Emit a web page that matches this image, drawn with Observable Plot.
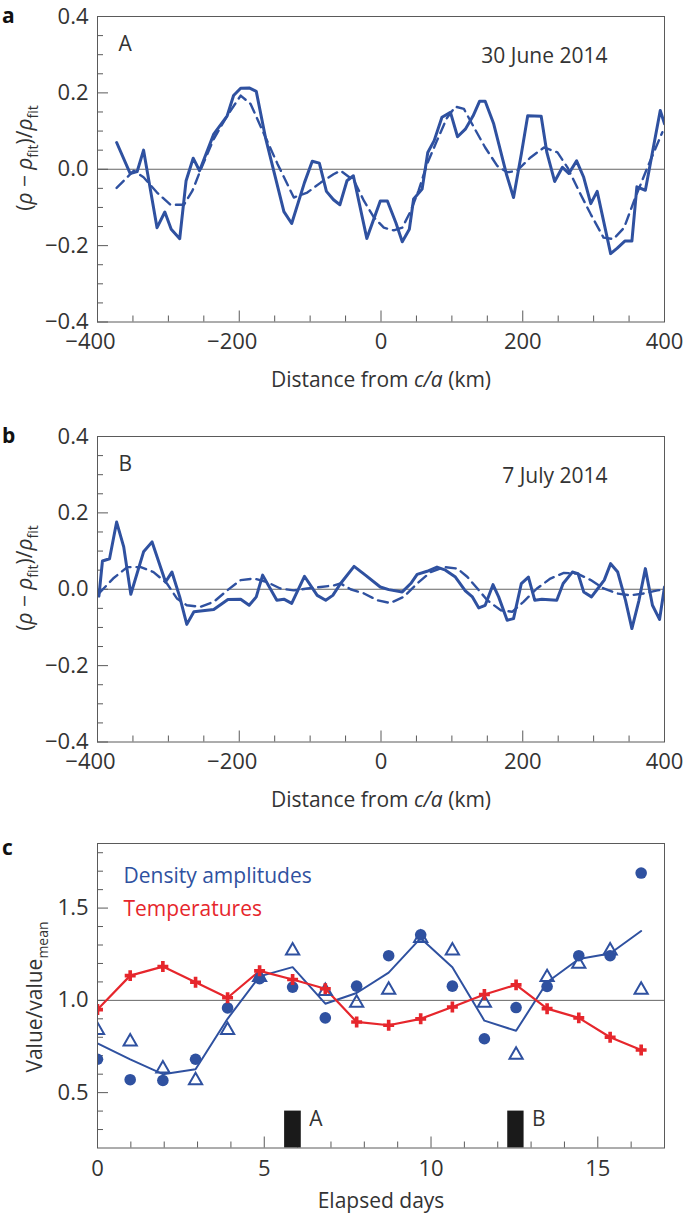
<!DOCTYPE html>
<html><head><meta charset="utf-8">
<script src="https://cdn.jsdelivr.net/npm/d3@7"></script>
<script src="https://cdn.jsdelivr.net/npm/@observablehq/plot@0.6"></script>
<style>
body{margin:0;background:#fff;}
#wrap{position:relative;width:685px;height:1214px;overflow:hidden;}
#wrap svg{position:absolute;left:0;overflow:visible;}
</style></head><body><div id="wrap"></div>
<script>
// ---------- Panel a (30 June 2014) ----------
const aSolidDist = [-373,-354,-344,-335,-316,-305,-296,-284,-275,-265,-256,-236,-217,-208,-198,-186,-176,-163,-137,-126,-108,-97,-87,-77,-67,-58,-48,-39,-20,-1,9,21,30,40,46,58,66,75,86,98,108,119,130,139,147,159,177,187,198,207,226,234,245,256,265,276,286,296,305,324,333,344,354,361,373,394,400];
const aSolidVal = [0.070,-0.011,-0.006,0.050,-0.153,-0.112,-0.157,-0.182,-0.030,0.029,-0.004,0.092,0.140,0.193,0.212,0.213,0.204,0.083,-0.111,-0.142,-0.035,0.021,0.016,-0.058,-0.080,-0.093,-0.030,-0.017,-0.181,-0.083,-0.083,-0.140,-0.190,-0.157,-0.078,-0.052,0.044,0.075,0.136,0.149,0.085,0.105,0.140,0.178,0.178,0.119,-0.013,-0.074,0.040,0.140,0.139,0.044,-0.032,0.005,-0.011,0.022,-0.021,-0.090,-0.058,-0.221,-0.207,-0.188,-0.188,-0.046,-0.055,0.154,0.119];
const aDashDist = [-373,-349,-335,-316,-297,-278,-266,-255,-236,-217,-198,-184,-165,-146,-123,-104,-85,-67,-57,-38,-24,-10,4,18,30,42,53,65,79,93,105,117,131,147,164,178,192,211,230,249,263,279,296,314,328,343,357,376,397];
const aDashVal = [-0.049,-0.004,-0.021,-0.061,-0.093,-0.093,-0.056,-0.004,0.079,0.140,0.193,0.171,0.092,0.014,-0.074,-0.061,-0.035,-0.013,-0.004,-0.030,-0.083,-0.126,-0.153,-0.160,-0.153,-0.109,-0.056,0.014,0.075,0.134,0.164,0.158,0.110,0.057,0.009,-0.008,-0.004,0.031,0.057,0.044,0.005,-0.056,-0.118,-0.179,-0.183,-0.153,-0.083,0.005,0.097];

// ---------- Panel b (7 July 2014) ----------
const bSolidDist = [-398,-393,-383,-373,-363,-353,-335,-323,-304,-295,-284,-274,-264,-236,-216,-198,-186,-176,-167,-147,-137,-126,-108,-90,-78,-68,-57,-38,-22,-1,11,30,42,51,65,79,91,105,119,129,138,147,158,166,178,187,198,208,217,227,248,257,270,278,286,297,306,315,324,334,345,354,364,373,383,393,400];
const bSolidVal = [-0.018,0.074,0.080,0.176,0.111,-0.013,0.098,0.124,0.019,0.045,-0.020,-0.092,-0.059,-0.053,-0.027,-0.026,-0.042,-0.020,0.037,-0.029,-0.026,-0.037,0.034,-0.016,-0.029,-0.016,0.015,0.060,0.037,0.006,-0.001,-0.007,0.015,0.039,0.047,0.058,0.050,0.032,-0.004,-0.020,-0.049,-0.042,0.012,-0.020,-0.081,-0.077,0.015,0.032,-0.029,-0.026,-0.029,0.015,0.045,0.041,-0.007,-0.020,0.002,0.024,0.067,0.045,-0.029,-0.103,-0.029,0.054,-0.042,-0.079,0.006];
const bDashDist = [-398,-378,-358,-339,-321,-302,-288,-274,-255,-236,-217,-198,-179,-161,-142,-123,-104,-85,-67,-57,-43,-24,-5,13,32,51,70,89,108,122,136,150,169,185,201,220,239,258,277,296,314,333,352,371,390,400];
const bDashVal = [-0.011,0.028,0.058,0.058,0.045,0.015,-0.024,-0.042,-0.046,-0.033,-0.003,0.024,0.028,0.019,0.002,-0.003,0.002,0.006,0.010,0.015,0.000,-0.011,-0.029,-0.036,-0.020,0.015,0.045,0.058,0.054,0.032,0.002,-0.029,-0.055,-0.059,-0.033,0.002,0.028,0.043,0.041,0.024,0.002,-0.011,-0.016,-0.011,-0.003,0.000];

// ---------- Panel c ----------
const days = [0,0.98,1.96,2.94,3.9,4.86,5.85,6.83,7.77,8.73,9.69,10.64,11.6,12.55,13.48,14.43,15.37,16.3];
const temperatures = [0.95,1.134,1.183,1.098,1.014,1.16,1.113,1.063,0.883,0.865,0.90,0.964,1.032,1.084,0.955,0.905,0.80,0.731];
const densityCircles = [0.681,0.57,0.566,0.681,0.959,1.117,1.072,0.905,1.077,1.242,1.355,1.077,0.792,0.961,1.075,1.242,1.242,1.69];
const densityTriangles = [0.839,0.776,0.63,0.566,0.839,1.125,1.269,1.05,0.986,1.057,1.337,1.269,0.986,0.704,1.125,1.197,1.269,1.057];
const densityLine = [0.767,0.68,0.60,0.627,0.90,1.13,1.18,0.982,1.04,1.15,1.337,1.18,0.89,0.835,1.098,1.224,1.254,1.376];
const markerLabels = ["A","B"];
const markerStart = [5.61,12.3];
const markerEnd = [6.11,12.79];
const markerTop = [0.4,0.4];
const legendLabels = ["Density amplitudes","Temperatures"];

// ticks
const distMajor = [-400,-200,0,200,400];
const distMinor = [-350,-300,-250,-150,-100,-50,50,100,150,250,300,350];
const ratioMajor = [-0.4,-0.2,0,0.2,0.4];
const ratioMinor = [-0.35,-0.3,-0.25,-0.15,-0.1,-0.05,0.05,0.1,0.15,0.25,0.3,0.35];
const dayMajor = [0,5,10,15];
const dayMinor = [1,2,3,4,6,7,8,9,11,12,13,14,16];
const valueMajor = [0.5,1.0,1.5];
const valueMinor = [0.3,0.4,0.6,0.7,0.8,0.9,1.1,1.2,1.3,1.4,1.6,1.7,1.8];

const BLUE = "#2f51a0", RED = "#e6262c", AXIS = "#5a5a5a", TXT = "#333", FONT = '"Open Sans", sans-serif';
const wrap = document.getElementById("wrap");
const fmtInt = d3.format("d");

function addRich(svg, x, y, parts, {rotate = false, anchor = "middle", size = 21, weight = 400, fill = TXT} = {}) {
  const t = d3.select(svg).append("text")
    .attr("transform", `translate(${x},${y})` + (rotate ? " rotate(-90)" : ""))
    .attr("text-anchor", anchor).attr("font-size", size).attr("font-weight", weight)
    .attr("font-family", FONT).attr("fill", fill);
  let shift = 0;
  for (const p of parts) {
    const s = t.append("tspan").text(p.t);
    if (p.i) s.attr("font-style", "italic");
    const target = p.sub ? 6 : 0;
    if (target !== shift) { s.attr("dy", target - shift); shift = target; }
    if (p.sub) s.attr("font-size", 14);
  }
  return t;
}

function distPanel(top, sD, sV, dD, dV, tag, date, letter) {
  const W = 685, H = 410, mt = 16, mb = 88.5, ml = 97, mr = 21;
  const fw = W - ml - mr, fh = H - mt - mb;
  const solid = sD.map((d, i) => ({d, v: sV[i]}));
  const dash = dD.map((d, i) => ({d, v: dV[i]}));
  const svg = Plot.plot({
    width: W, height: H, marginTop: mt, marginBottom: mb, marginLeft: ml, marginRight: mr,
    style: {fontFamily: FONT, fontSize: "22px", color: TXT, background: "transparent"},
    x: {domain: [-400, 400], axis: null},
    y: {domain: [-0.4, 0.4], ticks: ratioMajor, tickSize: 0, tickPadding: 9, tickFormat: d3.format(".1f"), label: null},
    marks: [
      Plot.ruleY([0], {stroke: "#666", strokeWidth: 1}),
      Plot.tickX(distMinor, {x: d => d, stroke: AXIS, insetTop: fh - 6}),
      Plot.tickX(distMajor, {x: d => d, stroke: AXIS, insetTop: fh - 11}),
      Plot.tickY(ratioMinor, {y: d => d, stroke: AXIS, insetRight: fw - 6}),
      Plot.tickY(ratioMajor, {y: d => d, stroke: AXIS, insetRight: fw - 11}),
      Plot.line(dash, {x: "d", y: "v", stroke: BLUE, strokeWidth: 2.4, strokeDasharray: "10,6", clip: true}),
      Plot.line(solid, {x: "d", y: "v", stroke: BLUE, strokeWidth: 3, clip: true}),
      Plot.frame({stroke: AXIS}),
      // x tick labels: negative labels hang their minus sign to the left, as in the reference
      Plot.text(distMajor.filter(d => d < 0), {x: d => d, text: d => fmtInt(d), frameAnchor: "bottom", dy: 20, dx: -7, lineAnchor: "middle", fontSize: 22, fill: TXT}),
      Plot.text(distMajor.filter(d => d >= 0), {x: d => d, text: d => fmtInt(d), frameAnchor: "bottom", dy: 20, lineAnchor: "middle", fontSize: 22, fill: TXT}),
      Plot.text([tag], {text: d => d, frameAnchor: "top-left", dx: 21, dy: 34, lineAnchor: "bottom", textAnchor: "start", fontSize: 21, fill: TXT}),
      Plot.text([date], {text: d => d, frameAnchor: "top-right", dx: -57, dy: 46, lineAnchor: "bottom", textAnchor: "end", fontSize: 21, fill: TXT})
    ]
  });
  svg.style.top = top + "px";
  wrap.appendChild(svg);
  addRich(svg, 2, 23, [{t: letter}], {anchor: "start", weight: 700, size: 21, fill: "#111"});
  addRich(svg, 381, 387, [{t: "Distance from "}, {t: "c/a", i: true}, {t: " (km)"}]);
  addRich(svg, 32, 158, [{t: "("}, {t: "ρ", i: true}, {t: " − "}, {t: "ρ", i: true}, {t: "fit", sub: true}, {t: ")/"}, {t: "ρ", i: true}, {t: "fit", sub: true}], {rotate: true});
}

distPanel(0, aSolidDist, aSolidVal, aDashDist, aDashVal, "A", "30 June 2014", "a");
distPanel(420, bSolidDist, bSolidVal, bDashDist, bDashVal, "B", "7 July 2014", "b");

// Panel c
{
  const W = 685, H = 384, mt = 13, mb = 66.5, ml = 97, mr = 21;
  const fw = W - ml - mr, fh = H - mt - mb;
  const rows = days.map((day, i) => ({day, temp: temperatures[i], circ: densityCircles[i], tri: densityTriangles[i], fit: densityLine[i]}));
  const bars = markerLabels.map((label, i) => ({label, x1: markerStart[i], x2: markerEnd[i], top: markerTop[i]}));
  const svg = Plot.plot({
    width: W, height: H, marginTop: mt, marginBottom: mb, marginLeft: ml, marginRight: mr,
    style: {fontFamily: FONT, fontSize: "22px", color: TXT, background: "transparent"},
    x: {domain: [0, 17], ticks: dayMajor, tickSize: 0, tickPadding: 12, tickFormat: fmtInt, label: null},
    y: {domain: [0.2, 1.85], ticks: valueMajor, tickSize: 0, tickPadding: 9, tickFormat: d3.format(".1f"), label: null},
    marks: [
      Plot.ruleY([1], {stroke: "#666", strokeWidth: 1}),
      Plot.tickX(dayMinor, {x: d => d, stroke: AXIS, insetTop: fh - 6}),
      Plot.tickX(dayMajor, {x: d => d, stroke: AXIS, insetTop: fh - 11}),
      Plot.tickY(valueMinor, {y: d => d, stroke: AXIS, insetRight: fw - 6}),
      Plot.tickY(valueMajor, {y: d => d, stroke: AXIS, insetRight: fw - 11}),
      Plot.rectY(bars, {x1: "x1", x2: "x2", y: "top", fill: "#1a1a1a", clip: true}),
      Plot.text(bars, {x: "x2", y: "top", text: "label", dx: 8, textAnchor: "start", lineAnchor: "top", fontSize: 21, fill: TXT}),
      Plot.line(rows, {x: "day", y: "fit", stroke: BLUE, strokeWidth: 2, clip: true}),
      Plot.line(rows, {x: "day", y: "temp", stroke: RED, strokeWidth: 2.2, clip: true}),
      Plot.dot(rows, {x: "day", y: "tri", symbol: "triangle", r: 4.9, stroke: BLUE, strokeWidth: 2, fill: "none", clip: true}),
      Plot.dot(rows, {x: "day", y: "circ", r: 5.8, fill: BLUE, stroke: "none", clip: true}),
      Plot.dot(rows, {x: "day", y: "temp", symbol: "cross", r: 4.6, fill: RED, stroke: "none", clip: true}),
      Plot.frame({stroke: AXIS}),
      Plot.text([legendLabels[0]], {text: d => d, frameAnchor: "top-left", dx: 26, dy: 39, lineAnchor: "bottom", textAnchor: "start", fontSize: 21, fill: BLUE}),
      Plot.text([legendLabels[1]], {text: d => d, frameAnchor: "top-left", dx: 26, dy: 72, lineAnchor: "bottom", textAnchor: "start", fontSize: 21, fill: RED})
    ]
  });
  svg.style.top = "830px";
  wrap.appendChild(svg);
  addRich(svg, 2, 25, [{t: "c"}], {anchor: "start", weight: 700, size: 21, fill: "#111"});
  addRich(svg, 381, 378, [{t: "Elapsed days"}]);
  addRich(svg, 42, 167, [{t: "Value/value"}, {t: "mean", sub: true}], {rotate: true});
}
</script>
</body></html>
